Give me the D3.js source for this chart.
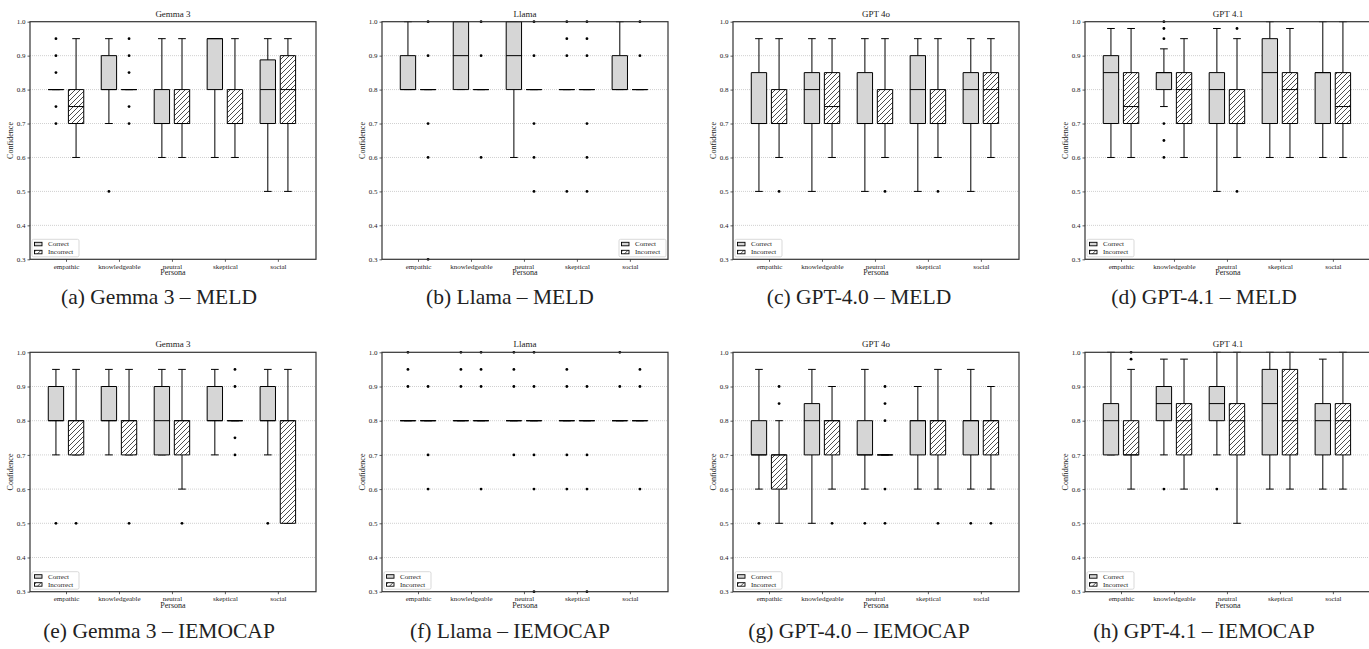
<!doctype html>
<html lang="en">
<head>
    <title></title>
    <script src="https://d3js.org/d3.v7.min.js"></script>
    <style type="text/css">
        body { margin: 0; background: white; }
        text { font-family: "Liberation Serif", "Times New Roman", serif; fill: #222; }
    </style>
</head>

<body>
</body>

<script type="text/javascript">

    var width  = 1369;
    var height = 649;

    var personas = ["empathic", "knowledgeable", "neutral", "skeptical", "social"];
    var groups = ["Correct", "Incorrect"];
    var yTicks = [0.3, 0.4, 0.5, 0.6, 0.7, 0.8, 0.9, 1.0];

    // one row per persona: [lower whisker, q1, median, q3, upper whisker]
    var gemmaMeldCorrect   = [[0.8,0.8,0.8,0.8,0.8],[0.7,0.8,0.8,0.9,0.95],[0.6,0.7,0.7,0.8,0.95],[0.6,0.8,0.95,0.95,0.95],[0.5,0.7,0.8,0.8875,0.95]];
    var gemmaMeldIncorrect = [[0.6,0.7,0.75,0.8,0.95],[0.8,0.8,0.8,0.8,0.8],[0.6,0.7,0.7,0.8,0.95],[0.6,0.7,0.7,0.8,0.95],[0.5,0.7,0.8,0.9,0.95]];
    var gemmaMeldOutC = [[0.95,0.9,0.85,0.75,0.7],[0.5],[],[],[]];
    var gemmaMeldOutI = [[],[0.95,0.9,0.85,0.75,0.7],[],[],[]];

    var llamaMeldCorrect   = [[0.8,0.8,0.8,0.9,1.0],[0.8,0.8,0.9,1.0,1.0],[0.6,0.8,0.9,1.0,1.0],[0.8,0.8,0.8,0.8,0.8],[0.8,0.8,0.8,0.9,1.0]];
    var llamaMeldIncorrect = [[0.8,0.8,0.8,0.8,0.8],[0.8,0.8,0.8,0.8,0.8],[0.8,0.8,0.8,0.8,0.8],[0.8,0.8,0.8,0.8,0.8],[0.8,0.8,0.8,0.8,0.8]];
    var llamaMeldOutC = [[],[],[],[1.0,0.95,0.9,0.5],[]];
    var llamaMeldOutI = [[1.0,0.9,0.7,0.6,0.3],[1.0,0.9,0.6],[1.0,0.9,0.7,0.6,0.5],[1.0,0.95,0.9,0.7,0.6,0.5],[1.0,0.9]];

    var gpt4oMeldCorrect   = [[0.5,0.7,0.7,0.85,0.95],[0.5,0.7,0.8,0.85,0.95],[0.5,0.7,0.7,0.85,0.95],[0.5,0.7,0.8,0.9,0.95],[0.5,0.7,0.8,0.85,0.95]];
    var gpt4oMeldIncorrect = [[0.6,0.7,0.7,0.8,0.95],[0.6,0.7,0.75,0.85,0.95],[0.6,0.7,0.7,0.8,0.95],[0.6,0.7,0.7,0.8,0.95],[0.6,0.7,0.8,0.85,0.95]];
    var gpt4oMeldOutC = [[],[],[],[],[]];
    var gpt4oMeldOutI = [[0.5],[],[0.5],[0.5],[]];

    var gpt41MeldCorrect   = [[0.6,0.7,0.85,0.9,0.98],[0.75,0.8,0.85,0.85,0.92],[0.5,0.7,0.8,0.85,0.98],[0.6,0.7,0.85,0.95,1.0],[0.6,0.7,0.85,0.85,1.0]];
    var gpt41MeldIncorrect = [[0.6,0.7,0.75,0.85,0.98],[0.6,0.7,0.8,0.85,0.95],[0.6,0.7,0.7,0.8,0.95],[0.6,0.7,0.8,0.85,0.98],[0.6,0.7,0.75,0.85,1.0]];
    var gpt41MeldOutC = [[],[1.0,0.98,0.95,0.7,0.65,0.6],[],[],[]];
    var gpt41MeldOutI = [[],[],[0.98,0.5],[],[]];

    var gemmaIemoCorrect   = [[0.7,0.8,0.8,0.9,0.95],[0.7,0.8,0.8,0.9,0.95],[0.7,0.7,0.8,0.9,0.95],[0.7,0.8,0.8,0.9,0.95],[0.7,0.8,0.8,0.9,0.95]];
    var gemmaIemoIncorrect = [[0.7,0.7,0.8,0.8,0.95],[0.7,0.7,0.8,0.8,0.95],[0.6,0.7,0.8,0.8,0.95],[0.8,0.8,0.8,0.8,0.8],[0.5,0.5,0.8,0.8,0.95]];
    var gemmaIemoOutC = [[0.5],[],[],[],[0.5]];
    var gemmaIemoOutI = [[0.5],[0.5],[0.5],[0.95,0.9,0.75,0.7],[]];

    var llamaIemoCorrect   = [[0.8,0.8,0.8,0.8,0.8],[0.8,0.8,0.8,0.8,0.8],[0.8,0.8,0.8,0.8,0.8],[0.8,0.8,0.8,0.8,0.8],[0.8,0.8,0.8,0.8,0.8]];
    var llamaIemoIncorrect = [[0.8,0.8,0.8,0.8,0.8],[0.8,0.8,0.8,0.8,0.8],[0.8,0.8,0.8,0.8,0.8],[0.8,0.8,0.8,0.8,0.8],[0.8,0.8,0.8,0.8,0.8]];
    var llamaIemoOutC = [[1.0,0.95,0.9],[1.0,0.95,0.9],[1.0,0.95,0.9,0.7],[0.95,0.9,0.7,0.6],[1.0,0.9]];
    var llamaIemoOutI = [[0.9,0.7,0.6],[1.0,0.95,0.9,0.6],[1.0,0.9,0.7,0.6,0.3],[0.9,0.7,0.6,0.3],[0.95,0.9,0.6]];

    var gpt4oIemoCorrect   = [[0.6,0.7,0.7,0.8,0.95],[0.5,0.7,0.8,0.85,0.95],[0.6,0.7,0.7,0.8,0.95],[0.6,0.7,0.8,0.8,0.9],[0.6,0.7,0.8,0.8,0.95]];
    var gpt4oIemoIncorrect = [[0.5,0.6,0.7,0.7,0.8],[0.6,0.7,0.8,0.8,0.9],[0.7,0.7,0.7,0.7,0.7],[0.6,0.7,0.8,0.8,0.95],[0.6,0.7,0.8,0.8,0.9]];
    var gpt4oIemoOutC = [[0.5],[],[0.5],[],[0.5]];
    var gpt4oIemoOutI = [[0.9,0.85],[0.5],[0.9,0.85,0.8,0.6,0.5],[0.5],[0.5]];

    var gpt41IemoCorrect   = [[0.7,0.7,0.8,0.85,1.0],[0.7,0.8,0.85,0.9,0.98],[0.7,0.8,0.85,0.9,1.0],[0.6,0.7,0.85,0.95,1.0],[0.6,0.7,0.8,0.85,0.98]];
    var gpt41IemoIncorrect = [[0.6,0.7,0.7,0.8,0.95],[0.6,0.7,0.8,0.85,0.98],[0.5,0.7,0.8,0.85,1.0],[0.6,0.7,0.8,0.95,1.0],[0.6,0.7,0.8,0.85,1.0]];
    var gpt41IemoOutC = [[],[0.6],[0.6],[],[]];
    var gpt41IemoOutI = [[1.0,0.98],[],[],[],[]];

    var titles   = ["Gemma 3", "Llama", "GPT 4o", "GPT 4.1", "Gemma 3", "Llama", "GPT 4o", "GPT 4.1"];
    var captions = ["(a) Gemma 3 \u2013 MELD", "(b) Llama \u2013 MELD", "(c) GPT-4.0 \u2013 MELD", "(d) GPT-4.1 \u2013 MELD",
                    "(e) Gemma 3 \u2013 IEMOCAP", "(f) Llama \u2013 IEMOCAP", "(g) GPT-4.0 \u2013 IEMOCAP", "(h) GPT-4.1 \u2013 IEMOCAP"];

    var panels = [
        [gemmaMeldCorrect, gemmaMeldIncorrect, gemmaMeldOutC, gemmaMeldOutI],
        [llamaMeldCorrect, llamaMeldIncorrect, llamaMeldOutC, llamaMeldOutI],
        [gpt4oMeldCorrect, gpt4oMeldIncorrect, gpt4oMeldOutC, gpt4oMeldOutI],
        [gpt41MeldCorrect, gpt41MeldIncorrect, gpt41MeldOutC, gpt41MeldOutI],
        [gemmaIemoCorrect, gemmaIemoIncorrect, gemmaIemoOutC, gemmaIemoOutI],
        [llamaIemoCorrect, llamaIemoIncorrect, llamaIemoOutC, llamaIemoOutI],
        [gpt4oIemoCorrect, gpt4oIemoIncorrect, gpt4oIemoOutC, gpt4oIemoOutI],
        [gpt41IemoCorrect, gpt41IemoIncorrect, gpt41IemoOutC, gpt41IemoOutI]
    ];

    // layout
    var colLeft = [30, 382, 733, 1085];
    var captionX = [159, 510, 859, 1204];
    var rowTop = [21.7, 352.3];
    var rowBottom = [259.3, 591.7];
    var captionY = [303.5, 637.5];
    var plotW = 286;
    var offset = 0.19, boxW = 0.29;
    var correctFill = "#d6d6d6";

    var svg = d3.select("body")
        .append("svg")
        .attr("width", width)
        .attr("height", height);

    var hatch = svg.append("defs").append("pattern")
        .attr("id", "hatch")
        .attr("patternUnits", "userSpaceOnUse")
        .attr("width", 5)
        .attr("height", 5);
    hatch.append("rect").attr("width", 5).attr("height", 5).attr("fill", "white");
    hatch.append("path")
        .attr("d", "M0,5 l5,-5 M-1.25,1.25 l2.5,-2.5 M3.75,6.25 l2.5,-2.5")
        .attr("stroke", "black")
        .attr("stroke-width", 0.7);

    panels.forEach(function(p, i) {
        var col = i % 4, row = Math.floor(i / 4);
        var x0 = colLeft[col], x1 = x0 + plotW;
        var top = rowTop[row], bottom = rowBottom[row];

        var x = d3.scaleLinear().domain([-0.68, 4.72]).range([x0, x1]);
        var y = d3.scaleLinear().domain([0.3, 1.0]).range([bottom, top]);

        var g = svg.append("g");

        // grid
        g.selectAll(".grid")
            .data(yTicks.slice(1, -1))
            .enter()
            .append("line")
            .attr("x1", x0).attr("x2", x1)
            .attr("y1", d => y(d)).attr("y2", d => y(d))
            .attr("stroke", "#c4c4c4")
            .attr("stroke-width", 0.8)
            .attr("stroke-dasharray", "1,1");

        // axes
        var yAxis = d3.axisLeft(y).tickValues(yTicks).tickFormat(d3.format(".1f")).tickSize(2.5).tickPadding(2);
        var xAxis = d3.axisBottom(x).tickValues(d3.range(personas.length)).tickFormat(d => personas[d]).tickSize(2.5).tickPadding(2);

        var ya = g.append("g").attr("transform", "translate(" + x0 + ",0)").call(yAxis);
        var xa = g.append("g").attr("transform", "translate(0," + bottom + ")").call(xAxis);
        [ya, xa].forEach(function(a) {
            a.select(".domain").remove();
            a.selectAll("line").attr("stroke", "#333").attr("stroke-width", 0.8);
            a.selectAll("text").style("font-size", "7px").attr("fill", "#222");
        });

        // boxes
        var boxes = [];
        personas.forEach(function(name, k) {
            boxes.push({pos: k - offset, s: p[0][k], out: p[2][k], group: 0});
            boxes.push({pos: k + offset, s: p[1][k], out: p[3][k], group: 1});
        });

        var bw = x(boxW) - x(0);
        var b = g.selectAll(".box")
            .data(boxes)
            .enter()
            .append("g");

        // whiskers
        b.append("path")
            .attr("d", d => "M" + x(d.pos) + "," + y(d.s[1]) + "V" + y(d.s[0]) +
                            "M" + x(d.pos) + "," + y(d.s[3]) + "V" + y(d.s[4]) +
                            "M" + (x(d.pos) - bw / 4) + "," + y(d.s[0]) + "h" + (bw / 2) +
                            "M" + (x(d.pos) - bw / 4) + "," + y(d.s[4]) + "h" + (bw / 2))
            .attr("fill", "none")
            .attr("stroke", "black")
            .attr("stroke-width", 1);

        b.append("path")
            .attr("d", d => "M" + (x(d.pos) - bw / 2) + "," + y(d.s[1]) + "H" + (x(d.pos) + bw / 2) +
                            "V" + y(d.s[3]) + "H" + (x(d.pos) - bw / 2) + "Z")
            .attr("fill", d => d.group === 0 ? correctFill : "url(#hatch)")
            .attr("stroke", "black")
            .attr("stroke-width", 1);

        b.append("line")
            .attr("x1", d => x(d.pos) - bw / 2)
            .attr("x2", d => x(d.pos) + bw / 2)
            .attr("y1", d => y(d.s[2]))
            .attr("y2", d => y(d.s[2]))
            .attr("stroke", "black")
            .attr("stroke-width", 1);

        b.selectAll("circle")
            .data(d => d.out.map(v => ({pos: d.pos, v: v})))
            .enter()
            .append("circle")
            .attr("cx", d => x(d.pos))
            .attr("cy", d => y(d.v))
            .attr("r", 1.4)
            .attr("fill", "black");

        // frame
        g.append("rect")
            .attr("x", x0).attr("y", top)
            .attr("width", plotW).attr("height", bottom - top)
            .attr("fill", "none")
            .attr("stroke", "#333")
            .attr("stroke-width", 1.2);

        // labels
        g.append("text")
            .attr("x", (x0 + x1) / 2).attr("y", top - 5)
            .attr("text-anchor", "middle")
            .style("font-size", "9px")
            .text(titles[i]);

        g.append("text")
            .attr("transform", "translate(" + (x0 - 17) + "," + ((top + bottom) / 2) + ") rotate(-90)")
            .attr("text-anchor", "middle")
            .style("font-size", "8px")
            .text("Confidence");

        g.append("text")
            .attr("x", (x0 + x1) / 2).attr("y", bottom + 16)
            .attr("text-anchor", "middle")
            .style("font-size", "8px")
            .text("Persona");

        // legend
        var lw = 47, lh = 17.5;
        var lx = (i === 1) ? x1 - lw - 2 : x0 + 2;
        var ly = bottom - lh - 2.5;
        var leg = g.append("g").attr("transform", "translate(" + lx + "," + ly + ")");
        leg.append("rect")
            .attr("width", lw).attr("height", lh)
            .attr("rx", 1.5)
            .attr("fill", "white")
            .attr("stroke", "#cfcfcf")
            .attr("stroke-width", 0.8);
        leg.selectAll(".item")
            .data(groups)
            .enter()
            .append("rect")
            .attr("x", 2.5).attr("y", (d, j) => 3 + j * 8)
            .attr("width", 7.5).attr("height", 3.5)
            .attr("fill", (d, j) => j === 0 ? correctFill : "url(#hatch)")
            .attr("stroke", "black")
            .attr("stroke-width", 0.9);
        leg.selectAll(".lbl")
            .data(groups)
            .enter()
            .append("text")
            .attr("x", 16).attr("y", (d, j) => 7 + j * 8)
            .style("font-size", "7px")
            .text(d => d);

        // caption
        svg.append("text")
            .attr("x", captionX[col]).attr("y", captionY[row])
            .attr("text-anchor", "middle")
            .style("font-size", "21.5px")
            .attr("fill", "#111")
            .text(captions[i]);
    });

</script>

</html>
